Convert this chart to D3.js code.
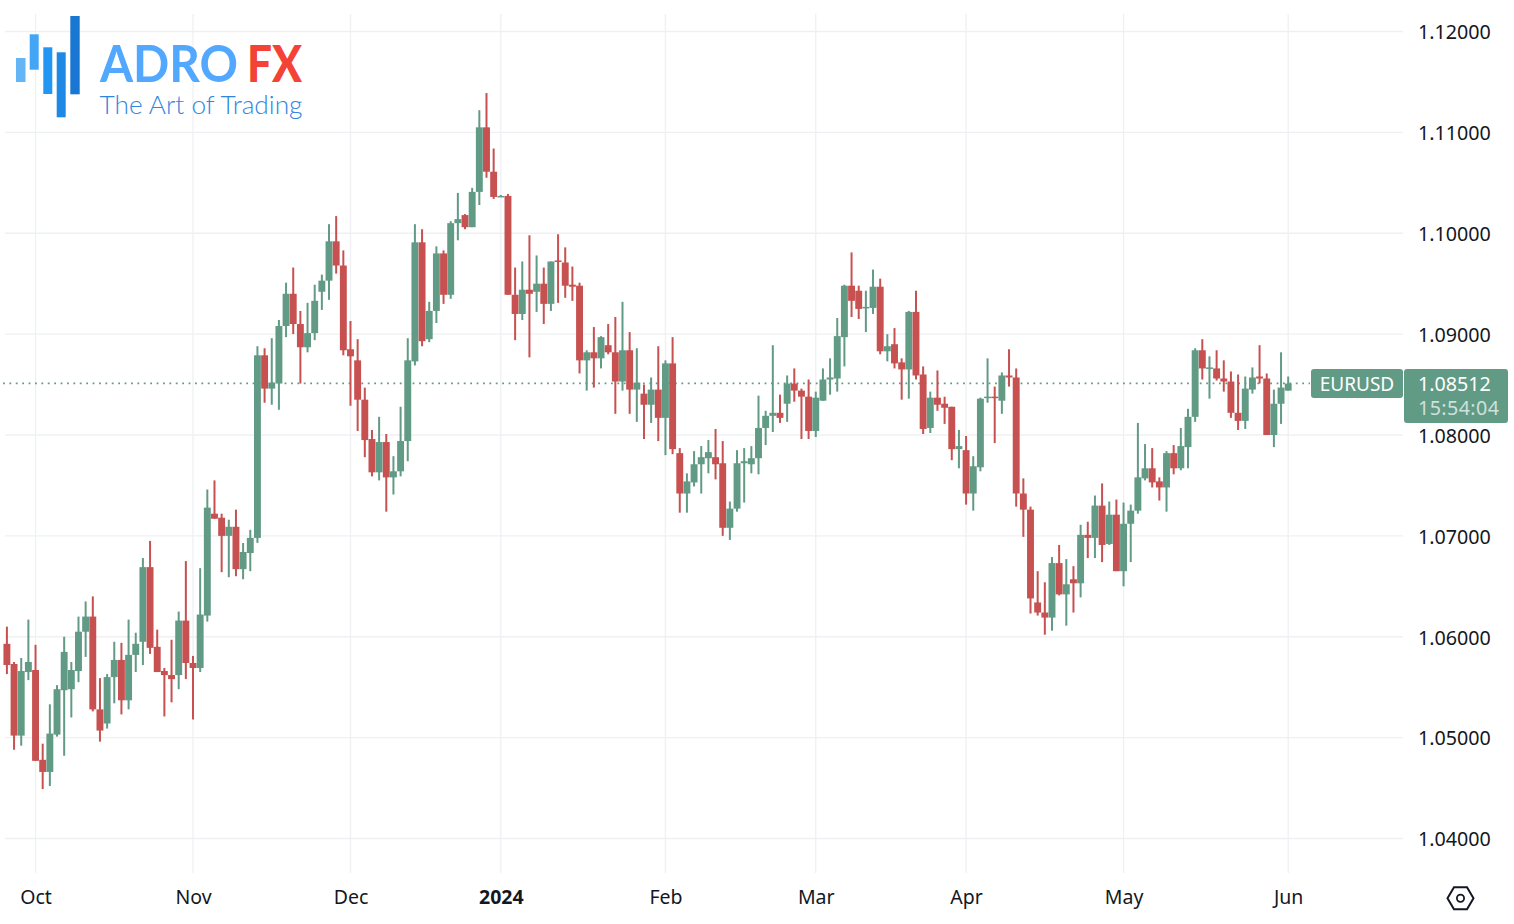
<!DOCTYPE html>
<html>
<head>
<meta charset="utf-8">
<title>EURUSD</title>
<script src="https://cdn.jsdelivr.net/npm/d3@7"></script>
<style>
  html, body { margin: 0; padding: 0; background: #fff; }
  svg { display: block; }
  .axis text { font-family: "Noto Sans", sans-serif; fill: #131722; }
  .y-axis text { font-size: 19.7px; }
  .x-axis text { font-size: 19.5px; }
  .axis .domain { display: none; }
</style>
</head>
<body>
<svg id="chart" width="1514" height="924"></svg>
<script>
// daily EURUSD candles, Oct 2023 - Jun 2024
const opens = [
  1.0593,1.0573,1.0502,1.0565,1.0567,1.0478,1.0466,1.0503,1.0547,1.0548,
  1.0566,1.0605,1.0620,1.0528,1.0514,1.0560,1.0577,1.0537,1.0582,1.0595,
  1.0669,1.0590,1.0566,1.0562,1.0562,1.0616,1.0574,1.0569,1.0621,1.0722,
  1.0718,1.0700,1.0709,1.0667,1.0683,1.0698,1.0879,1.0846,1.0851,1.0908,
  1.0940,1.0910,1.0887,1.0901,1.0942,1.0953,1.0992,1.0968,1.0885,1.0874,
  1.0835,1.0796,1.0763,1.0793,1.0758,1.0764,1.0794,1.0873,1.0991,1.0895,
  1.0923,1.0980,1.0939,1.1010,1.1018,1.1006,1.1041,1.1105,1.1061,1.1036,
  1.1037,1.0939,1.0920,1.0944,1.0942,1.0950,1.0930,1.0973,1.0971,1.0949,
  1.0948,1.0874,1.0882,1.0876,1.0889,1.0882,1.0853,1.0884,1.0845,1.0841,
  1.0830,1.0845,1.0817,1.0871,1.0782,1.0742,1.0753,1.0771,1.0777,1.0778,
  1.0772,1.0708,1.0727,1.0772,1.0771,1.0777,1.0807,1.0819,1.0822,1.0831,
  1.0851,1.0844,1.0838,1.0804,1.0834,1.0855,1.0856,1.0897,1.0948,1.0943,
  1.0926,1.0926,1.0947,1.0883,1.0890,1.0872,1.0865,1.0922,1.0860,1.0807,
  1.0837,1.0831,1.0828,1.0786,1.0785,1.0742,1.0768,1.0837,1.0838,1.0834,
  1.0859,1.0857,1.0742,1.0726,1.0634,1.0624,1.0619,1.0673,1.0642,1.0657,
  1.0653,1.0701,1.0698,1.0730,1.0692,1.0721,1.0665,1.0712,1.0725,1.0757,
  1.0767,1.0754,1.0748,1.0782,1.0767,1.0788,1.0818,1.0884,1.0866,1.0866,
  1.0856,1.0853,1.0822,1.0814,1.0845,1.0858,1.0856,1.0800,1.0831,1.0844
];
const highs = [
  1.0610,1.0575,1.0579,1.0617,1.0592,1.0494,1.0533,1.0552,1.0600,1.0575,
  1.0620,1.0635,1.0640,1.0559,1.0563,1.0595,1.0594,1.0617,1.0604,1.0678,
  1.0695,1.0607,1.0569,1.0597,1.0625,1.0675,1.0581,1.0668,1.0746,1.0755,
  1.0722,1.0716,1.0726,1.0693,1.0706,1.0888,1.0886,1.0896,1.0914,1.0951,
  1.0966,1.0923,1.0931,1.0949,1.0959,1.1009,1.1017,1.0983,1.0913,1.0895,
  1.0847,1.0805,1.0818,1.0801,1.0779,1.0828,1.0896,1.1009,1.1004,1.0932,
  1.0987,1.0983,1.1012,1.1040,1.1019,1.1045,1.1122,1.1139,1.1084,1.1038,
  1.1039,1.0966,1.0972,1.0998,1.0978,1.0966,1.0972,1.0999,1.0986,1.0967,
  1.0951,1.0884,1.0907,1.0898,1.0910,1.0917,1.0932,1.0902,1.0886,1.0850,
  1.0857,1.0888,1.0874,1.0897,1.0787,1.0762,1.0784,1.0789,1.0795,1.0806,
  1.0794,1.0734,1.0785,1.0787,1.0789,1.0839,1.0824,1.0889,1.0840,1.0859,
  1.0866,1.0846,1.0855,1.0843,1.0866,1.0876,1.0916,1.0949,1.0981,1.0948,
  1.0943,1.0964,1.0955,1.0900,1.0906,1.0876,1.0923,1.0943,1.0868,1.0843,
  1.0864,1.0838,1.0828,1.0805,1.0799,1.0779,1.0837,1.0876,1.0848,1.0862,
  1.0885,1.0866,1.0757,1.0729,1.0665,1.0654,1.0679,1.0691,1.0677,1.0670,
  1.0711,1.0714,1.0740,1.0752,1.0734,1.0736,1.0733,1.0731,1.0812,1.0791,
  1.0787,1.0758,1.0784,1.0790,1.0807,1.0826,1.0886,1.0895,1.0878,1.0884,
  1.0874,1.0863,1.0860,1.0858,1.0867,1.0889,1.0861,1.0845,1.0882,1.0858
];
const lows = [
  1.0563,1.0488,1.0492,1.0557,1.0477,1.0449,1.0452,1.0501,1.0482,1.0520,
  1.0555,1.0580,1.0526,1.0496,1.0509,1.0534,1.0523,1.0528,1.0565,1.0572,
  1.0583,1.0565,1.0521,1.0535,1.0548,1.0558,1.0518,1.0565,1.0615,1.0717,
  1.0664,1.0659,1.0660,1.0657,1.0665,1.0693,1.0832,1.0830,1.0825,1.0897,
  1.0900,1.0851,1.0882,1.0894,1.0924,1.0934,1.0960,1.0879,1.0829,1.0804,
  1.0778,1.0759,1.0755,1.0724,1.0741,1.0759,1.0774,1.0869,1.0888,1.0892,
  1.0911,1.0930,1.0935,1.0993,1.1004,1.1006,1.1028,1.1055,1.1034,1.1036,
  1.0939,1.0894,1.0914,1.0877,1.0922,1.0910,1.0923,1.0931,1.0936,1.0933,
  1.0861,1.0844,1.0847,1.0866,1.0880,1.0821,1.0844,1.0821,1.0813,1.0796,
  1.0812,1.0794,1.0780,1.0781,1.0723,1.0723,1.0749,1.0742,1.0762,1.0756,
  1.0700,1.0696,1.0724,1.0733,1.0762,1.0761,1.0790,1.0803,1.0812,1.0813,
  1.0833,1.0796,1.0796,1.0798,1.0834,1.0840,1.0843,1.0868,1.0917,1.0915,
  1.0902,1.0920,1.0880,1.0873,1.0866,1.0835,1.0836,1.0855,1.0801,1.0802,
  1.0824,1.0811,1.0775,1.0767,1.0731,1.0725,1.0764,1.0832,1.0792,1.0821,
  1.0848,1.0729,1.0699,1.0623,1.0621,1.0602,1.0606,1.0641,1.0611,1.0624,
  1.0639,1.0678,1.0678,1.0674,1.0691,1.0665,1.0650,1.0674,1.0722,1.0755,
  1.0748,1.0735,1.0724,1.0761,1.0765,1.0767,1.0813,1.0855,1.0836,1.0854,
  1.0843,1.0817,1.0805,1.0806,1.0841,1.0851,1.0800,1.0788,1.0811,1.0844
];
const closes = [
  1.0572,1.0502,1.0566,1.0575,1.0477,1.0466,1.0504,1.0548,1.0585,1.0567,
  1.0605,1.0620,1.0528,1.0507,1.0560,1.0577,1.0537,1.0582,1.0593,1.0669,
  1.0589,1.0565,1.0562,1.0558,1.0616,1.0574,1.0569,1.0622,1.0728,1.0717,
  1.0700,1.0709,1.0667,1.0684,1.0698,1.0879,1.0846,1.0852,1.0908,1.0940,
  1.0910,1.0887,1.0901,1.0933,1.0953,1.0992,1.0968,1.0884,1.0878,1.0835,
  1.0795,1.0763,1.0793,1.0758,1.0764,1.0794,1.0874,1.0991,1.0893,1.0923,
  1.0980,1.0939,1.1010,1.1014,1.1006,1.1041,1.1105,1.1061,1.1036,1.1037,
  1.0939,1.0920,1.0944,1.0940,1.0950,1.0930,1.0972,1.0972,1.0948,1.0947,
  1.0874,1.0882,1.0876,1.0897,1.0882,1.0853,1.0884,1.0845,1.0852,1.0830,
  1.0845,1.0817,1.0871,1.0786,1.0742,1.0754,1.0771,1.0778,1.0783,1.0771,
  1.0708,1.0727,1.0772,1.0774,1.0777,1.0807,1.0819,1.0822,1.0817,1.0851,
  1.0844,1.0838,1.0804,1.0837,1.0855,1.0857,1.0898,1.0948,1.0933,1.0925,
  1.0927,1.0947,1.0883,1.0888,1.0871,1.0865,1.0922,1.0859,1.0806,1.0837,
  1.0830,1.0827,1.0786,1.0789,1.0742,1.0769,1.0836,1.0838,1.0837,1.0859,
  1.0857,1.0742,1.0726,1.0638,1.0624,1.0619,1.0673,1.0642,1.0652,1.0653,
  1.0701,1.0698,1.0730,1.0691,1.0721,1.0665,1.0712,1.0725,1.0758,1.0767,
  1.0753,1.0748,1.0782,1.0767,1.0789,1.0818,1.0884,1.0866,1.0867,1.0856,
  1.0853,1.0822,1.0814,1.0846,1.0857,1.0856,1.0800,1.0831,1.0847,1.0851
];

const priceTicks = [1.04, 1.05, 1.06, 1.07, 1.08, 1.09, 1.10, 1.11, 1.12];
const monthLabels = ["Oct", "Nov", "Dec", "2024", "Feb", "Mar", "Apr", "May", "Jun"];
const monthIndex = [4, 26, 48, 69, 92, 113, 134, 156, 179];
const lastPrice = 1.08512;
const symbol = "EURUSD";
const countdown = "15:54:04";

const upColor = "#619a85";
const downColor = "#c75050";
const gridColor = "#eef0f3";

const svg = d3.select("#chart");

const candles = opens.map((o, i) => ({ i: i, o: o, h: highs[i], l: lows[i], c: closes[i] }));

const xScale = d3.scaleLinear().domain([0, 179]).range([6.9, 1288.2]);
const yScale = d3.scaleLinear().domain([1.04, 1.12]).range([838.5, 31.5]);

// grid
svg.append("g").selectAll("line")
  .data(priceTicks)
  .join("line")
  .attr("x1", 5)
  .attr("x2", 1403)
  .attr("y1", d => yScale(d))
  .attr("y2", d => yScale(d))
  .attr("stroke", gridColor)
  .attr("stroke-width", 1.3);

svg.append("g").selectAll("line")
  .data(monthIndex)
  .join("line")
  .attr("x1", d => xScale(d))
  .attr("x2", d => xScale(d))
  .attr("y1", 14)
  .attr("y2", 873)
  .attr("stroke", gridColor)
  .attr("stroke-width", 1.3);

// logo sits under the candles
const logoBars = [
  { x: 16, y: 58, w: 9.5, h: 24, fill: "#64b5f6" },
  { x: 29.7, y: 34.3, w: 9, h: 35.4, fill: "#42a5f5" },
  { x: 43.3, y: 47.3, w: 9, h: 46.7, fill: "#2196f3" },
  { x: 56.7, y: 52.3, w: 9, h: 65, fill: "#1e88e5" },
  { x: 70.3, y: 16, w: 9.4, h: 78.3, fill: "#1976d2" }
];
const logo = svg.append("g");
logo.selectAll("rect")
  .data(logoBars)
  .join("rect")
  .attr("x", d => d.x)
  .attr("y", d => d.y)
  .attr("width", d => d.w)
  .attr("height", d => d.h)
  .attr("fill", d => d.fill);
logo.append("text")
  .attr("x", 100)
  .attr("y", 81.5)
  .attr("font-family", "Lato, sans-serif")
  .attr("font-size", 51)
  .attr("font-weight", 700)
  .attr("textLength", 138)
  .attr("lengthAdjust", "spacingAndGlyphs")
  .attr("fill", "#52a8ff")
  .text("ADRO");
logo.append("text")
  .attr("x", 247)
  .attr("y", 81.5)
  .attr("font-family", "Lato, sans-serif")
  .attr("font-size", 51)
  .attr("font-weight", 900)
  .attr("textLength", 55)
  .attr("lengthAdjust", "spacingAndGlyphs")
  .attr("fill", "#f44336")
  .text("FX");
logo.append("text")
  .attr("x", 99.5)
  .attr("y", 114)
  .attr("font-family", "Lato, sans-serif")
  .attr("font-size", 26)
  .attr("font-weight", 300)
  .attr("textLength", 203)
  .attr("lengthAdjust", "spacingAndGlyphs")
  .attr("fill", "#2f86e0")
  .text("The Art of Trading");

// last price line
svg.append("line")
  .attr("x1", 3)
  .attr("x2", 1310)
  .attr("y1", yScale(lastPrice))
  .attr("y2", yScale(lastPrice))
  .attr("stroke", upColor)
  .attr("stroke-width", 1.7)
  .attr("stroke-dasharray", "1.8 4.6");

// candles
const candleG = svg.append("g").selectAll("g")
  .data(candles)
  .join("g")
  .attr("fill", d => d.c >= d.o ? upColor : downColor)
  .attr("stroke", d => d.c >= d.o ? upColor : downColor);

candleG.append("line")
  .attr("x1", d => xScale(d.i))
  .attr("x2", d => xScale(d.i))
  .attr("y1", d => yScale(d.h))
  .attr("y2", d => yScale(d.l))
  .attr("stroke-width", 2);

candleG.append("rect")
  .attr("x", d => xScale(d.i) - 3.45)
  .attr("width", 6.9)
  .attr("y", d => yScale(Math.max(d.o, d.c)))
  .attr("height", d => Math.max(1.5, Math.abs(yScale(d.o) - yScale(d.c))))
  .attr("stroke", "none");

// axes
const yAxis = d3.axisRight(yScale)
  .tickValues(priceTicks)
  .tickSize(0)
  .tickPadding(0)
  .tickFormat(d3.format(".5f"));
svg.append("g")
  .attr("class", "axis y-axis")
  .attr("transform", "translate(1418,1)")
  .call(yAxis);

const xAxis = d3.axisBottom(xScale)
  .tickValues(monthIndex)
  .tickSize(0)
  .tickPadding(0)
  .tickFormat((d, i) => monthLabels[i]);
const xAxisG = svg.append("g")
  .attr("class", "axis x-axis")
  .attr("transform", "translate(0,890.5)")
  .call(xAxis);
xAxisG.selectAll("text")
  .filter(d => d === 69)
  .style("font-weight", 700);

// last price labels
svg.append("rect")
  .attr("x", 1311)
  .attr("y", 369)
  .attr("width", 92)
  .attr("height", 29)
  .attr("rx", 3)
  .attr("fill", upColor);
svg.append("rect")
  .attr("x", 1404)
  .attr("y", 369)
  .attr("width", 104)
  .attr("height", 54)
  .attr("rx", 3)
  .attr("fill", upColor);
svg.append("text")
  .attr("x", 1357)
  .attr("y", 391)
  .attr("text-anchor", "middle")
  .attr("font-family", "Noto Sans, sans-serif")
  .attr("font-size", 19)
  .attr("fill", "#fff")
  .text(symbol);
svg.append("text")
  .attr("x", 1418)
  .attr("y", 391)
  .attr("font-family", "Noto Sans, sans-serif")
  .attr("font-size", 19.7)
  .attr("fill", "#fff")
  .text(d3.format(".5f")(lastPrice));
svg.append("text")
  .attr("x", 1418)
  .attr("y", 415)
  .attr("font-family", "Noto Sans, sans-serif")
  .attr("font-size", 19.7)
  .attr("letter-spacing", 0.4)
  .attr("fill", "#cfe1da")
  .text(countdown);

// settings hexagon in the corner
const hexPoints = [[-13, 0], [-6.5, -11], [6.5, -11], [13, 0], [6.5, 11], [-6.5, 11]];
const corner = svg.append("g").attr("transform", "translate(1460.5,898.3)");
corner.append("path")
  .attr("d", d3.line()(hexPoints) + "Z")
  .attr("fill", "none")
  .attr("stroke", "#131722")
  .attr("stroke-width", 2);
corner.append("circle")
  .attr("r", 3.6)
  .attr("fill", "none")
  .attr("stroke", "#131722")
  .attr("stroke-width", 1.8);
</script>
</body>
</html>
